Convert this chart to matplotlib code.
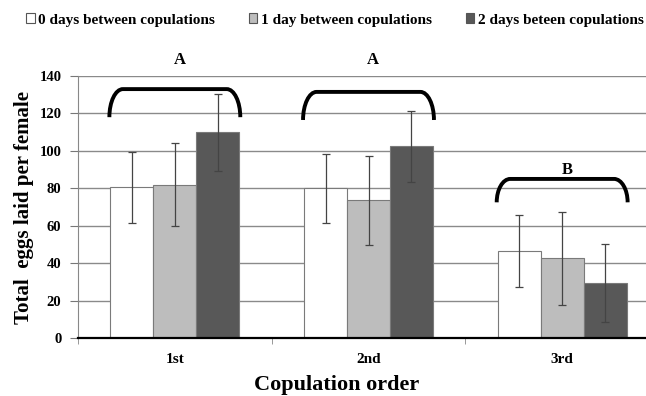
import matplotlib.pyplot as plt
import numpy as np
from matplotlib.path import Path
from matplotlib.patches import PathPatch, Patch

plt.rcParams["font.family"] = ["Liberation Serif", "DejaVu Serif"]

orders = ["1st", "2nd", "3rd"]
series = ["0 days between copulations", "1 day between copulations", "2 days beteen copulations"]
eggs_0day = [80.5, 80.0, 46.5]
eggs_1day = [82.0, 73.5, 42.5]
eggs_2day = [110.0, 102.5, 29.5]
err_0day = [19.0, 18.5, 19.0]
err_1day = [22.0, 24.0, 25.0]
err_2day = [20.5, 19.0, 20.7]
group_letters = ["A", "A", "B"]
# bracket: (bottom of the ends, top of the bar) per group
bracket_levels = [(118, 133), (116.5, 131.5), (72.5, 85)]
letter_y = [148.5, 148.5, 90]

colors = ["white", "#bdbdbd", "#585858"]


def bracket(ax, x0, x1, yb, yt, rx=0.07):
    k = 0.552
    h = yt - yb
    verts = [
        (x0, yb),
        (x0, yb + k * h), (x0 + rx * (1 - k), yt), (x0 + rx, yt),
        (x1 - rx, yt),
        (x1 - rx * (1 - k), yt), (x1, yb + k * h), (x1, yb),
    ]
    codes = [Path.MOVETO, Path.CURVE4, Path.CURVE4, Path.CURVE4, Path.LINETO,
             Path.CURVE4, Path.CURVE4, Path.CURVE4]
    ax.add_patch(PathPatch(Path(verts, codes), fill=False, lw=2.8,
                           edgecolor="black", capstyle="butt", zorder=5, clip_on=False))


fig = plt.figure(figsize=(6.46, 3.96), dpi=100)
ax = fig.add_axes([78 / 646, 58 / 396, 581 / 646, 262 / 396])

x = np.arange(len(orders))
w = 0.222
values = [eggs_0day, eggs_1day, eggs_2day]
errors = [err_0day, err_1day, err_2day]
for i in range(3):
    pos = x + (i - 1) * w
    ax.bar(pos, values[i], width=w, color=colors[i], edgecolor="#7a7a7a",
           linewidth=0.8, zorder=2, label=series[i])
    ax.errorbar(pos, values[i], yerr=errors[i], fmt="none", ecolor="#444444",
                elinewidth=0.9, capsize=3, capthick=0.9, zorder=3)

for g in range(3):
    yb, yt = bracket_levels[g]
    bracket(ax, x[g] - 1.5 * w - 0.005, x[g] + 1.5 * w + 0.005, yb, yt)
    ax.text(x[g] + 0.025, letter_y[g], group_letters[g], ha="center", va="center",
            fontsize=12, fontweight="bold", clip_on=False)

ax.set_xlim(-0.5, 2.5)
ax.set_ylim(0, 140)
ax.set_yticks(np.arange(0, 141, 20))
ax.yaxis.grid(True, color="#8a8a8a", linewidth=1.0, zorder=0)
ax.set_axisbelow(True)

ax.set_xticks(x)
ax.set_xticklabels(orders, fontsize=11, fontweight="bold")
ax.set_xticks([-0.5, 0.5, 1.5], minor=True)
ax.tick_params(axis="x", which="major", length=0, pad=11)
ax.tick_params(axis="x", which="minor", length=4, color="#888888", direction="out")
ax.tick_params(axis="y", length=6, color="#777777", labelsize=10.5, pad=6)
for lbl in ax.get_yticklabels():
    lbl.set_fontweight("bold")

for s in ["top", "right"]:
    ax.spines[s].set_visible(False)
ax.spines["left"].set_color("#888888")
ax.spines["bottom"].set_color("black")
ax.spines["bottom"].set_linewidth(1.6)

ax.set_ylabel("Total  eggs laid per female", fontsize=15, fontweight="bold", labelpad=4)
ax.set_xlabel("Copulation order", fontsize=16, fontweight="bold")
ax.xaxis.set_label_coords(0.445, -0.14)

handles = [Patch(facecolor=c, edgecolor="#555555", linewidth=0.8) for c in colors]
leg = fig.legend(handles, series, loc="center", ncol=3, frameon=False, fontsize=11,
                 handlelength=0.55, handleheight=0.55, handletextpad=0.25,
                 columnspacing=2.2)
leg.set_bbox_to_anchor((335 / 646, 1 - 20 / 396), transform=fig.transFigure)
for t in leg.get_texts():
    t.set_fontweight("bold")

fig.savefig("out.png", dpi=100)
